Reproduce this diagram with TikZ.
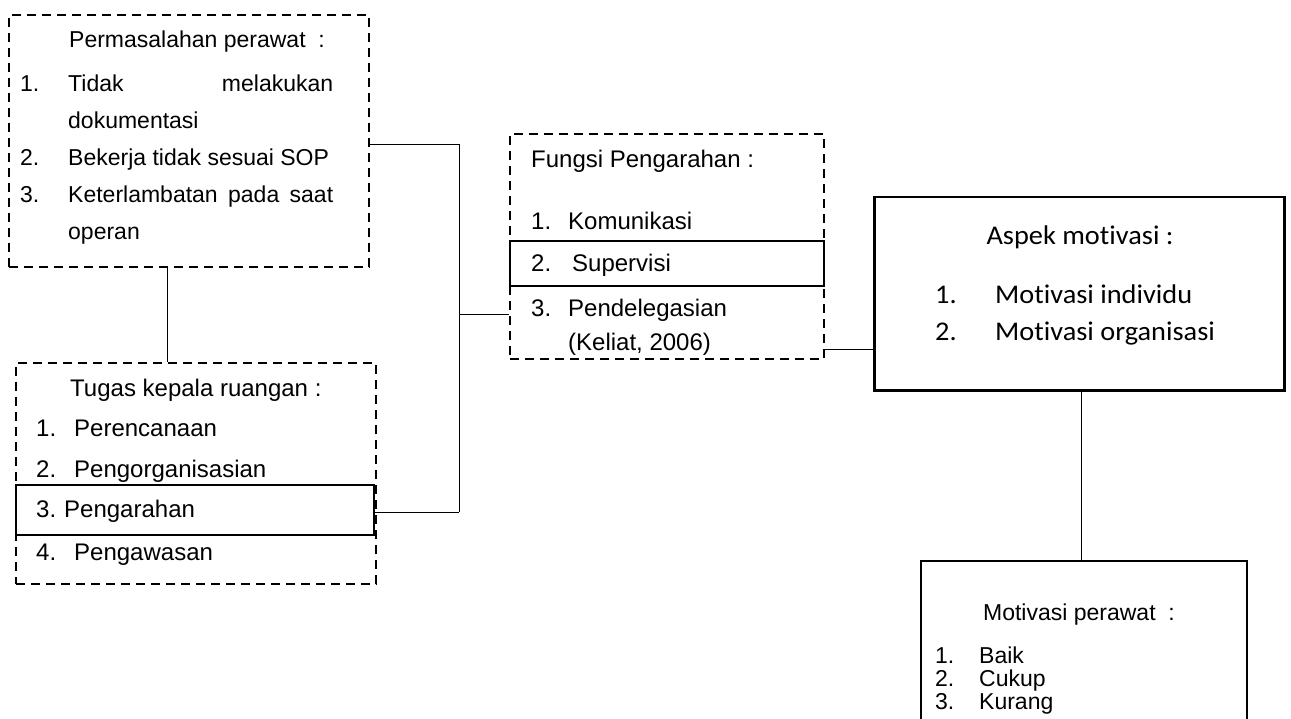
\documentclass[tikz,border=0pt]{standalone}
\usepackage{fontspec}
\setmainfont{Liberation Sans}
\newfontfamily\fD{Carlito}[FakeStretch=1.05,Ligatures={NoCommon,NoRare}]
\newcommand{\szA}{\fontsize{23}{27}\selectfont}
\newcommand{\szB}{\fontsize{24}{28}\selectfont}
\newcommand{\szC}{\fontsize{24}{28}\selectfont}
\newcommand{\szD}{\fD\fontsize{27}{32}\selectfont}
\newcommand{\szE}{\fontsize{23}{27}\selectfont}
\begin{document}
\begin{tikzpicture}[x=1pt,y=-1pt,
  dbox/.style={draw, dash pattern=on 9pt off 6pt, line width=2pt, inner sep=0pt, anchor=north west},
  sbox/.style={draw, line width=2pt, inner sep=0pt, anchor=north west},
  conn/.style={line width=1pt},
  txt/.style={anchor=base west, inner sep=0pt},
  ctxt/.style={anchor=base, inner sep=0pt}]
\useasboundingbox (0,0) rectangle (1291,719);

% boxes
\node[dbox, minimum width=360, minimum height=252] (A) at (8,14) {};
\node[dbox, minimum width=360, minimum height=221] (B) at (15,362) {};
\node[sbox, minimum width=358, minimum height=50] (P3) at (15,484) {};
\node[dbox, minimum width=314, minimum height=225] (C) at (509,133) {};
\node[sbox, minimum width=314, minimum height=45] (S2) at (509,240) {};
\node[sbox, line width=2.5pt, minimum width=410, minimum height=193] (D) at (873,196) {};
\node[sbox, minimum width=326, minimum height=190] (E) at (920,560) {};

% texts A
\node[txt] (a0) at (69,48) {\szA Permasalahan perawat \ :};
\node[txt] (a1n) at (20,92) {\szA 1.};
\node[txt] (a1) at (68,92) {\szA\makebox[265pt][s]{Tidak melakukan}};
\node[txt] (a1b) at (68,129) {\szA dokumentasi};
\node[txt] (a2n) at (20,166) {\szA 2.};
\node[txt] (a2) at (68,166) {\szA Bekerja tidak sesuai SOP};
\node[txt] (a3n) at (20,203) {\szA 3.};
\node[txt] (a3) at (68,203) {\szA\makebox[265pt][s]{Keterlambatan pada saat}};
\node[txt] (a3b) at (68,240) {\szA operan};

% texts B
\node[txt] (b0) at (70,396) {\szB Tugas kepala ruangan :};
\node[txt] (b1n) at (36,436) {\szB 1.};
\node[txt] (b1) at (74,436) {\szB Perencanaan};
\node[txt] (b2n) at (36,477) {\szB 2.};
\node[txt] (b2) at (74,477) {\szB Pengorganisasian};
\node[txt] (b3n) at (36,517) {\szB 3.};
\node[txt] (b3) at (64,517) {\szB Pengarahan};
\node[txt] (b4n) at (36,560) {\szB 4.};
\node[txt] (b4) at (74,560) {\szB Pengawasan};

% texts C
\node[txt] (c0) at (531,168) {\szC Fungsi Pengarahan :};
\node[txt] (c1n) at (531,230) {\szC 1.};
\node[txt] (c1) at (568,230) {\szC Komunikasi};
\node[txt] (c2n) at (531,272) {\szC 2.};
\node[txt] (c2) at (572,272) {\szC Supervisi};
\node[txt] (c3n) at (531,317) {\szC 3.};
\node[txt] (c3) at (568,317) {\szC Pendelegasian};
\node[txt] (c4) at (568,351) {\szC (Keliat, 2006)};

% texts D
\node[ctxt] (d0) at (1080,245) {\szD Aspek motivasi :};
\node[txt] (d1n) at (935,304) {\szD 1.};
\node[txt] (d1) at (995,304) {\szD Motivasi individu};
\node[txt] (d2n) at (935,341) {\szD 2.};
\node[txt] (d2) at (995,341) {\szD Motivasi organisasi};

% texts E
\node[ctxt] (e0) at (1079,620) {\szE Motivasi perawat \ :};
\node[txt] (e1n) at (935,663) {\szE 1.};
\node[txt] (e1) at (979,663) {\szE Baik};
\node[txt] (e2n) at (935,686) {\szE 2.};
\node[txt] (e2) at (979,686) {\szE Cukup};
\node[txt] (e3n) at (935,709) {\szE 3.};
\node[txt] (e3) at (979,709) {\szE Kurang};

% connectors
\coordinate (jA) at (459,145);
\coordinate (jB) at (459,512);
\coordinate (jC) at (459,315);
\coordinate (xAB) at (167,0);
\coordinate (yCD) at (0,350);
\coordinate (xDE) at (1081,0);
\draw[conn] (A.east |- jA) -- (jA) -- (jB);
\draw[conn] (P3.east |- jB) -- (jB);
\draw[conn] (jC) -- (C.west |- jC);
\draw[conn] (A.south -| xAB) -- (B.north -| xAB);
\draw[conn] (C.east |- yCD) -- (D.west |- yCD);
\draw[conn] (D.south -| xDE) -- (E.north -| xDE);
\end{tikzpicture}
\end{document}
